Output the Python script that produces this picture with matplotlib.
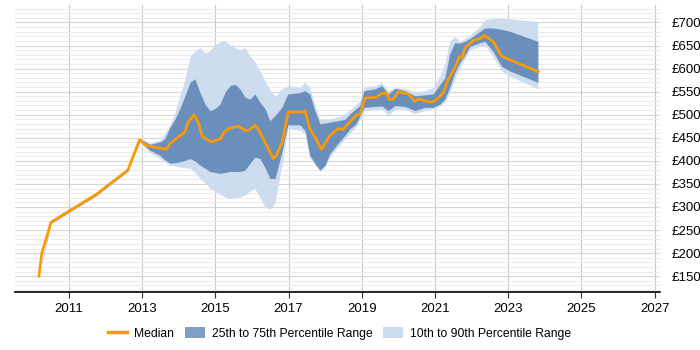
import matplotlib.pyplot as plt
from matplotlib.lines import Line2D
from matplotlib.patches import Patch

plt.rcParams['font.family'] = ['Liberation Sans', 'DejaVu Sans']

# median day rate
median_years = [2010.18, 2010.26, 2010.51, 2011.00, 2011.74, 2012.61, 2012.93, 2013.08, 2013.30,
                2013.67, 2013.76, 2014.17, 2014.26, 2014.42, 2014.53, 2014.65, 2014.90, 2015.04,
                2015.13, 2015.26, 2015.40, 2015.63, 2015.81, 2015.90, 2016.08, 2016.17, 2016.36,
                2016.58, 2016.67, 2016.83, 2016.99, 2017.40, 2017.45, 2017.58, 2017.72, 2017.90,
                2018.13, 2018.36, 2018.48, 2018.86, 2018.95, 2019.09, 2019.41, 2019.54, 2019.68,
                2019.75, 2019.86, 2020.00, 2020.27, 2020.45, 2020.54, 2020.91, 2021.05, 2021.23,
                2021.36, 2021.55, 2021.66, 2021.75, 2021.82, 2022.05, 2022.23, 2022.34, 2022.59,
                2022.82, 2023.82]
median = [150, 200, 267, 291, 327, 380, 446, 435, 430,
          425, 437, 463, 484, 500, 484, 452, 441, 445,
          447, 464, 471, 475, 466, 465, 477, 470, 440,
          405, 412, 441, 506, 506, 509, 470, 452, 425,
          455, 470, 468, 500, 500, 536, 538, 546, 547,
          533, 533, 550, 545, 529, 534, 527, 533, 548,
          577, 602, 625, 625, 645, 661, 665, 672, 659,
          627, 593]

# percentile bands
band_years = [2010.18, 2010.51, 2011.00, 2011.74, 2012.61, 2012.94, 2013.21, 2013.49, 2013.62,
              2013.76, 2013.90, 2014.03, 2014.17, 2014.31, 2014.44, 2014.58, 2014.72, 2014.85,
              2014.99, 2015.13, 2015.26, 2015.40, 2015.54, 2015.67, 2015.81, 2015.95, 2016.08,
              2016.22, 2016.36, 2016.49, 2016.63, 2016.82, 2016.98, 2017.31, 2017.45, 2017.58,
              2017.72, 2017.86, 2018.00, 2018.13, 2018.35, 2018.54, 2018.68, 2018.84, 2018.95,
              2019.06, 2019.36, 2019.55, 2019.72, 2019.91, 2020.18, 2020.45, 2020.73, 2020.95,
              2021.14, 2021.27, 2021.40, 2021.54, 2021.67, 2021.81, 2021.95, 2022.22, 2022.36,
              2022.58, 2022.82, 2023.04, 2023.81]
p10 = [150, 263, 287, 323, 376, 441, 418, 405, 398,
       391, 389, 387, 385, 384, 375, 362, 352, 341,
       334, 328, 322, 318, 320, 322, 326, 335, 340,
       320, 300, 295, 310, 391, 470, 466, 459, 405,
       391, 377, 387, 409, 430, 448, 460, 473, 490,
       509, 511, 512, 498, 512, 512, 502, 510, 513,
       520, 527, 548, 577, 600, 620, 641, 648, 651,
       627, 595, 584, 556]
p25 = [150, 265, 289, 325, 378, 443, 423, 412, 402,
       395, 396, 398, 401, 405, 400, 391, 384, 377,
       375, 373, 375, 377, 377, 377, 380, 395, 408,
       405, 385, 362, 362, 420, 478, 478, 466, 412,
       395, 380, 391, 416, 438, 455, 470, 480, 497,
       516, 518, 519, 509, 520, 518, 509, 516, 516,
       523, 534, 559, 591, 612, 628, 648, 656, 659,
       638, 605, 595, 570]
p75 = [150, 270, 294, 330, 383, 448, 436, 441, 448,
       473, 491, 513, 541, 570, 578, 548, 523, 509,
       513, 523, 548, 563, 566, 556, 538, 534, 545,
       527, 513, 487, 498, 516, 545, 548, 552, 545,
       509, 480, 482, 484, 487, 490, 502, 513, 520,
       552, 556, 563, 545, 557, 552, 541, 543, 545,
       566, 580, 631, 656, 655, 659, 665, 680, 688,
       688, 685, 681, 659]
p90 = [150, 272, 296, 332, 385, 450, 438, 445, 460,
       477, 506, 541, 577, 627, 638, 645, 634, 638,
       652, 658, 661, 652, 645, 641, 645, 627, 615,
       595, 572, 555, 540, 556, 563, 559, 570, 560,
       520, 491, 491, 491, 495, 502, 510, 522, 530,
       559, 563, 570, 552, 559, 557, 550, 552, 559,
       584, 610, 659, 670, 659, 665, 672, 690, 706,
       709, 709, 708, 702]

year_ticks = [2011, 2013, 2015, 2017, 2019, 2021, 2023, 2025, 2027]
price_ticks = [150, 200, 250, 300, 350, 400, 450, 500, 550, 600, 650, 700]

fig = plt.figure(figsize=(7, 3.5), dpi=100)
ax = fig.add_axes([0.021, 0.166, 0.922, 0.82])

ax.fill_between(band_years, p10, p90, color='#cddcee', linewidth=0)
ax.fill_between(band_years, p25, p75, color='#6a8fba', linewidth=0)
ax.plot(median_years, median, color='#ff9900', linewidth=1.9)

ax.set_xlim(2009.52, 2027.15)
ax.set_ylim(116, 738)

ax.set_xticks(year_ticks)
ax.set_xticklabels([str(y) for y in year_ticks], fontsize=9.5)
ax.set_yticks(price_ticks)
ax.set_yticklabels(['£%d' % p for p in price_ticks], fontsize=9.5)
ax.set_yticks(range(120, 740, 10), minor=True)
ax.yaxis.tick_right()
ax.tick_params(axis='y', which='both', length=0, pad=8)
ax.tick_params(axis='x', length=4, color='#333333', pad=4)

ax.grid(axis='x', color='#c8c8c8', linewidth=0.8)
ax.grid(axis='y', which='major', color='#d6d6d6', linewidth=0.8)
ax.grid(axis='y', which='minor', color='#ececec', linewidth=0.8)
ax.set_axisbelow(True)

for side in ['top', 'left', 'right']:
    ax.spines[side].set_visible(False)
ax.spines['bottom'].set_color('#000000')
ax.spines['bottom'].set_linewidth(1.2)

handles = [
    Line2D([0], [0], color='#ff9900', linewidth=2.5),
    Patch(facecolor='#7ea0c4'),
    Patch(facecolor='#cddcee'),
]
labels = ['Median', '25th to 75th Percentile Range', '10th to 90th Percentile Range']
fig.legend(handles, labels, loc='center', bbox_to_anchor=(0.485, 0.048), ncol=3,
           frameon=False, fontsize=8.7, handlelength=1.6, handleheight=1.1,
           columnspacing=0.9, handletextpad=0.6)

fig.savefig('out.png', dpi=100)
